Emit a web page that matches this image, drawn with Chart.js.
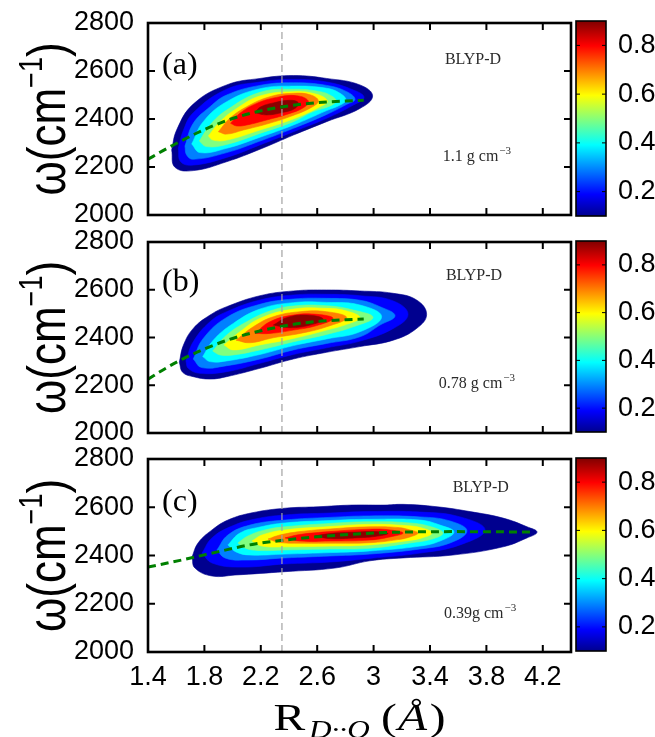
<!DOCTYPE html>
<html>
<head>
<meta charset="utf-8">
<script src="https://cdn.jsdelivr.net/npm/chart.js@4.4.1/dist/chart.umd.min.js"></script>
<style>
  html, body { margin: 0; padding: 0; background: #fff; }
  body { width: 655px; height: 737px; position: relative; overflow: hidden; }
  canvas { position: absolute; }
</style>
</head>
<body>
<canvas id="pa" width="575" height="240" style="left:0;top:0"></canvas>
<canvas id="ca" width="95" height="240" style="left:560px;top:0"></canvas>
<canvas id="pb" width="575" height="240" style="left:0;top:218px"></canvas>
<canvas id="cb" width="95" height="240" style="left:560px;top:218px"></canvas>
<canvas id="pc" width="575" height="302" style="left:0;top:435px"></canvas>
<canvas id="cc" width="95" height="302" style="left:560px;top:435px"></canvas>
<script>
// ---- axes ----
const xTicks = [1.4, 1.8, 2.2, 2.6, 3.0, 3.4, 3.8, 4.2];
const xTickLabels = ['1.4', '1.8', '2.2', '2.6', '3', '3.4', '3.8', '4.2'];
const xRange = [1.4, 4.4];
const yTicks = [2000, 2200, 2400, 2600, 2800];
const yRange = [2000, 2800];
const cbTicks = [0.2, 0.4, 0.6, 0.8];
const cbTickLabels = ['0.2', '0.4', '0.6', '0.8'];
const cbRange = [0.1, 0.9];

// density levels 0.1 ... 0.9 (one filled band per level, outermost first)
const levelValues = [0.1, 0.2, 0.3, 0.4, 0.5, 0.6, 0.7, 0.8, 0.9];
const levelColors = ['#00008f', '#0000ff', '#0080ff', '#00ffff', '#80ff80', '#ffff00', '#ff8000', '#ff0000', '#8c0000'];
const jetStops = [0, 0.111, 0.365, 0.619, 0.873, 1];
const jetColors = ['#00008f', '#0000ff', '#00ffff', '#ffff00', '#ff0000', '#800000'];

// vertical reference distance (Å)
const guideR = 2.35;

// ---- (a) 1.1 g/cm3: contour outlines [R, omega] per level ----
const contoursA = [
  [[1.568,2271],[1.603,2354],[1.721,2462],[1.958,2542],[2.194,2569],[2.431,2581],[2.667,2569],[2.903,2542],[2.993,2496],[2.903,2444],[2.667,2389],[2.431,2333],[2.194,2274],[1.958,2222],[1.721,2185],[1.591,2199]],
  [[1.615,2278],[1.650,2351],[1.721,2426],[1.958,2524],[2.194,2554],[2.431,2565],[2.667,2554],[2.856,2521],[2.932,2490],[2.856,2458],[2.667,2403],[2.431,2347],[2.194,2292],[1.958,2240],[1.721,2208],[1.632,2222]],
  [[1.662,2287],[1.721,2382],[1.840,2451],[1.958,2500],[2.194,2540],[2.431,2551],[2.667,2540],[2.809,2514],[2.868,2482],[2.809,2461],[2.667,2419],[2.431,2361],[2.194,2308],[1.958,2260],[1.721,2232],[1.674,2250]],
  [[1.710,2296],[1.792,2389],[1.958,2472],[2.194,2526],[2.431,2537],[2.667,2528],[2.762,2507],[2.804,2479],[2.762,2458],[2.667,2435],[2.431,2375],[2.194,2324],[1.958,2278],[1.769,2260]],
  [[1.764,2308],[1.840,2375],[1.958,2437],[2.194,2511],[2.431,2524],[2.620,2514],[2.702,2496],[2.733,2475],[2.691,2454],[2.572,2431],[2.431,2389],[2.194,2340],[1.958,2294],[1.816,2285]],
  [[1.828,2329],[1.911,2389],[2.029,2444],[2.194,2496],[2.431,2514],[2.596,2503],[2.672,2475],[2.620,2451],[2.431,2400],[2.194,2354],[1.958,2312],[1.863,2312]],
  [[1.899,2347],[1.981,2403],[2.100,2451],[2.265,2493],[2.431,2507],[2.549,2501],[2.608,2476],[2.561,2449],[2.407,2410],[2.242,2379],[2.076,2354],[1.958,2337]],
  [[1.986,2382],[2.052,2424],[2.171,2465],[2.312,2490],[2.454,2497],[2.537,2475],[2.502,2447],[2.383,2419],[2.242,2396],[2.100,2375],[2.029,2371]],
  [[2.159,2426],[2.194,2449],[2.289,2467],[2.407,2478],[2.466,2468],[2.442,2444],[2.360,2428],[2.242,2417]]
];
const fitA = [[1.4,2232],[1.5,2266],[1.6,2298],[1.8,2356],[2.0,2402],[2.2,2434],[2.4,2455],[2.6,2468],[2.8,2475],[2.93,2478]];

// ---- (b) 0.78 g/cm3 ----
const contoursB = [
  [[1.622,2296],[1.650,2366],[1.721,2438],[1.840,2494],[1.958,2529],[2.194,2575],[2.431,2595],[2.667,2599],[2.903,2595],[3.140,2585],[3.305,2557],[3.376,2497],[3.305,2438],[3.140,2389],[2.903,2362],[2.667,2338],[2.431,2310],[2.194,2271],[1.958,2236],[1.840,2226],[1.721,2236],[1.646,2254]],
  [[1.669,2302],[1.721,2382],[1.840,2466],[1.958,2508],[2.194,2557],[2.431,2578],[2.667,2581],[2.903,2575],[3.140,2553],[3.244,2497],[3.140,2438],[2.903,2385],[2.667,2357],[2.431,2329],[2.194,2292],[1.958,2257],[1.769,2250],[1.686,2271]],
  [[1.721,2310],[1.792,2396],[1.958,2484],[2.194,2539],[2.431,2561],[2.667,2564],[2.903,2556],[3.045,2529],[3.152,2491],[3.045,2452],[2.903,2403],[2.667,2375],[2.431,2348],[2.194,2310],[1.958,2282],[1.781,2274]],
  [[1.788,2320],[1.863,2389],[2.005,2459],[2.194,2519],[2.431,2546],[2.667,2547],[2.903,2536],[3.057,2487],[2.903,2424],[2.667,2394],[2.431,2366],[2.194,2329],[1.958,2302],[1.840,2299]],
  [[1.859,2343],[1.958,2410],[2.100,2466],[2.265,2511],[2.431,2532],[2.667,2533],[2.856,2515],[2.996,2484],[2.856,2445],[2.667,2413],[2.431,2382],[2.194,2348],[2.005,2327],[1.911,2327]],
  [[1.939,2369],[2.052,2424],[2.194,2480],[2.431,2519],[2.667,2522],[2.809,2511],[2.903,2483],[2.809,2455],[2.667,2431],[2.431,2396],[2.194,2369],[2.005,2348]],
  [[2.024,2389],[2.147,2445],[2.289,2487],[2.478,2508],[2.667,2508],[2.809,2483],[2.667,2445],[2.478,2417],[2.289,2399],[2.123,2378]],
  [[2.159,2417],[2.265,2466],[2.431,2494],[2.596,2497],[2.712,2480],[2.596,2450],[2.431,2431],[2.265,2417]],
  [[2.289,2452],[2.383,2483],[2.525,2494],[2.643,2477],[2.549,2452],[2.407,2441]]
];
const fitB = [[1.4,2225],[1.5,2262],[1.6,2296],[1.8,2352],[2.0,2396],[2.2,2428],[2.4,2452],[2.6,2467],[2.8,2474],[2.93,2477]];

// ---- (c) 0.39 g/cm3 ----
const contoursC = [
  [[1.712,2394],[1.755,2452],[1.854,2506],[1.967,2547],[2.138,2577],[2.372,2596],[2.606,2602],[2.847,2609],[3.081,2609],[3.209,2612],[3.450,2602],[3.684,2582],[3.918,2555],[4.088,2519],[4.159,2497],[4.088,2473],[3.918,2436],[3.563,2402],[3.209,2390],[2.974,2378],[2.726,2348],[2.372,2333],[2.017,2319],[1.854,2315],[1.733,2348]],
  [[1.783,2410],[1.854,2473],[1.996,2522],[2.159,2551],[2.372,2568],[2.691,2576],[2.974,2582],[3.329,2580],[3.613,2560],[3.790,2506],[3.613,2444],[3.329,2410],[2.974,2388],[2.691,2373],[2.372,2365],[2.052,2352],[1.854,2369]],
  [[1.889,2423],[1.967,2485],[2.123,2526],[2.372,2547],[2.691,2558],[2.974,2564],[3.329,2560],[3.542,2543],[3.662,2502],[3.542,2452],[3.329,2427],[2.974,2406],[2.691,2398],[2.372,2390],[2.088,2381],[1.946,2390]],
  [[1.967,2444],[2.052,2493],[2.194,2518],[2.372,2535],[2.691,2545],[2.974,2550],[3.329,2547],[3.471,2526],[3.570,2497],[3.471,2460],[3.329,2439],[2.974,2419],[2.691,2412],[2.372,2406],[2.123,2402],[2.024,2415]],
  [[2.038,2452],[2.109,2481],[2.230,2506],[2.372,2519],[2.691,2533],[2.974,2540],[3.258,2535],[3.414,2518],[3.492,2493],[3.414,2468],[3.258,2452],[2.974,2430],[2.691,2427],[2.372,2423],[2.180,2421],[2.088,2431]],
  [[2.138,2460],[2.209,2485],[2.372,2506],[2.691,2520],[2.974,2529],[3.223,2524],[3.343,2514],[3.414,2493],[3.343,2473],[3.223,2460],[2.974,2444],[2.691,2439],[2.372,2436],[2.209,2439]],
  [[2.251,2468],[2.336,2485],[2.478,2499],[2.691,2510],[2.974,2519],[3.173,2516],[3.258,2506],[3.315,2493],[3.258,2477],[3.173,2466],[2.974,2453],[2.691,2451],[2.478,2451],[2.336,2454]],
  [[2.372,2473],[2.478,2487],[2.691,2499],[2.974,2509],[3.116,2506],[3.209,2493],[3.116,2477],[2.974,2464],[2.691,2460],[2.478,2460]],
  [[2.584,2481],[2.691,2491],[2.868,2497],[3.010,2499],[3.102,2491],[3.010,2479],[2.868,2473],[2.691,2470]]
];
const fitC = [[1.4,2352],[1.66,2384],[1.9,2416],[2.14,2446],[2.37,2464],[2.61,2478],[2.85,2488],[3.08,2495],[3.57,2499],[4.14,2497]];

// ---- panel captions ----
const panelTags = ['(a)', '(b)', '(c)'];
const modelNames = ['BLYP-D', 'BLYP-D', 'BLYP-D'];
const densityTexts = ['1.1 g cm', '0.78 g cm', '0.39g cm'];
const densityExp = '\u22123';

// ---------------------------------------------------------------
Chart.defaults.font.family = '"Liberation Sans", Arial, sans-serif';
Chart.defaults.color = '#000';
Chart.defaults.animation = false;

const SANS = '"Liberation Sans", Arial, sans-serif';
const SERIF = '"Liberation Serif", "Times New Roman", serif';
const TICK_FONT = 27;

// frame + inward tick marks on all four sides
function frameTicks(opts) {
  return {
    id: 'frameTicks',
    afterDraw(chart) {
      const { ctx, chartArea: a } = chart;
      ctx.save();
      ctx.strokeStyle = '#000';
      ctx.lineWidth = opts.tickWidth;
      ctx.beginPath();
      for (const id of opts.axes) {
        const s = chart.scales[id];
        for (const t of s.ticks) {
          const p = s.getPixelForValue(t.value);
          if (s.isHorizontal()) {
            if (p <= a.left + 1 || p >= a.right - 1) continue;
            ctx.moveTo(p, a.bottom); ctx.lineTo(p, a.bottom - opts.len);
            ctx.moveTo(p, a.top); ctx.lineTo(p, a.top + opts.len);
          } else {
            if (p <= a.top + 1 || p >= a.bottom - 1) continue;
            ctx.moveTo(a.left, p); ctx.lineTo(a.left + opts.len, p);
            ctx.moveTo(a.right, p); ctx.lineTo(a.right - opts.len, p);
          }
        }
      }
      ctx.stroke();
      ctx.lineWidth = opts.frameWidth;
      ctx.strokeRect(a.left, a.top, a.right - a.left, a.bottom - a.top);
      ctx.restore();
    }
  };
}

// rotated y title: omega(cm^-1)
function yTitle(opts) {
  return {
    id: 'yTitle',
    afterDraw(chart) {
      const { ctx, chartArea: a } = chart;
      const cy = (a.top + a.bottom) / 2;
      const big = `${opts.size}px ${SANS}`;
      const small = `${opts.supSize}px ${SANS}`;
      ctx.save();
      ctx.fillStyle = '#000';
      ctx.textBaseline = 'alphabetic';
      ctx.textAlign = 'left';
      ctx.font = big;
      const w1 = ctx.measureText('\u03c9(cm').width;
      const w3 = ctx.measureText(')').width;
      ctx.font = small;
      const w2 = ctx.measureText('\u22121').width;
      ctx.translate(opts.baseline, cy);
      ctx.rotate(-Math.PI / 2);
      ctx.scale(1, opts.thick);
      let x = -(w1 + w2 + w3) / 2;
      ctx.font = big; ctx.fillText('\u03c9(cm', x, 0); x += w1;
      ctx.font = small; ctx.fillText('\u22121', x, -opts.rise); x += w2;
      ctx.font = big; ctx.fillText(')', x, 0);
      ctx.restore();
    }
  };
}

// panel letter, functional name and density label
function captions(idx, pos) {
  return {
    id: 'captions',
    afterDatasetsDraw(chart) {
      const { ctx } = chart;
      const xs = chart.scales.x, ys = chart.scales.y;
      ctx.save();
      ctx.textBaseline = 'middle';
      ctx.fillStyle = '#000';
      ctx.font = `32px ${SERIF}`;
      ctx.textAlign = 'left';
      ctx.fillText(panelTags[idx], xs.getPixelForValue(pos.tag[0]), ys.getPixelForValue(pos.tag[1]));

      ctx.fillStyle = '#2a2a2a';
      ctx.font = `16px ${SERIF}`;
      ctx.textAlign = 'center';
      ctx.fillText(modelNames[idx], xs.getPixelForValue(pos.model[0]), ys.getPixelForValue(pos.model[1]));

      const main = densityTexts[idx];
      ctx.font = `16px ${SERIF}`;
      const wm = ctx.measureText(main).width;
      ctx.font = `11px ${SERIF}`;
      const we = ctx.measureText(densityExp).width;
      const cx = xs.getPixelForValue(pos.dens[0]);
      const cy = ys.getPixelForValue(pos.dens[1]);
      const left = cx - (wm + we + 1) / 2;
      ctx.textAlign = 'left';
      ctx.font = `16px ${SERIF}`;
      ctx.fillText(main, left, cy);
      ctx.font = `11px ${SERIF}`;
      ctx.fillText(densityExp, left + wm + 1, cy - 6);
      ctx.restore();
    }
  };
}

// x title: R_{D..O}(Å)
function xTitle() {
  return {
    id: 'xTitle',
    afterDraw(chart) {
      const { ctx, chartArea: a } = chart;
      const parts = [
        { t: 'R', f: `38px ${SERIF}`, dy: 0, gap: 0 },
        { t: 'D\u00b7\u00b7O', f: `italic 25px ${SERIF}`, dy: 8, gap: 3 },
        { t: '(', f: `38px ${SERIF}`, dy: 0, gap: 9 },
        { t: '\u00c5', f: `italic 38px ${SERIF}`, dy: 0, gap: 1 },
        { t: ')', f: `38px ${SERIF}`, dy: 0, gap: 2 }
      ];
      ctx.save();
      let total = 0;
      for (const p of parts) { ctx.font = p.f; p.w = ctx.measureText(p.t).width; total += p.w + p.gap; }
      const span = 172;
      const sx = span / total;
      const cx = (a.left + a.right) / 2;
      const baseY = a.bottom + 78;
      ctx.translate(cx - span / 2, baseY);
      ctx.scale(sx, 1);
      ctx.fillStyle = '#000';
      ctx.textBaseline = 'alphabetic';
      ctx.textAlign = 'left';
      let x = 0;
      for (const p of parts) {
        x += p.gap;
        ctx.font = p.f;
        ctx.fillText(p.t, x, p.dy);
        x += p.w;
      }
      ctx.restore();
    }
  };
}

function toXY(arr) { return arr.map(([x, y]) => ({ x, y })); }

function buildPanel(canvasId, idx, contours, fit, layout, pos) {
  const datasets = [];
  contours.forEach((poly, k) => {
    const pts = toXY(poly);
    pts.push({ x: poly[0][0], y: poly[0][1] });
    datasets.push({
      label: 'p > ' + levelValues[k],
      data: pts,
      showLine: true,
      fill: 'shape',
      backgroundColor: levelColors[k],
      borderColor: levelColors[k],
      borderWidth: 0.6,
      pointRadius: 0,
      tension: 0.42,
      order: 20 - k
    });
  });
  datasets.push({
    label: 'fit',
    data: toXY(fit),
    showLine: true,
    fill: false,
    borderColor: '#008000',
    borderWidth: 3,
    borderDash: [8, 5],
    pointRadius: 0,
    cubicInterpolationMode: 'monotone',
    order: 1
  });
  datasets.push({
    label: 'guide',
    data: [{ x: guideR, y: yRange[0] }, { x: guideR, y: yRange[1] }],
    showLine: true,
    fill: false,
    borderColor: '#a3a3a3',
    borderWidth: 1.2,
    borderDash: [7, 4],
    pointRadius: 0,
    order: 0
  });

  const plugins = [
    frameTicks({ axes: ['x', 'y'], len: 7, tickWidth: 2, frameWidth: 2.6 }),
    yTitle({ baseline: 65, size: 44, supSize: 27, rise: 19, thick: 1.2 }),
    captions(idx, pos)
  ];
  if (layout.xLabels) plugins.push(xTitle());

  return new Chart(document.getElementById(canvasId), {
    type: 'scatter',
    data: { datasets },
    options: {
      responsive: false,
      animation: false,
      events: [],
      layout: { padding: { left: 0, right: 4, top: layout.padTop, bottom: 0 } },
      plugins: { legend: { display: false }, tooltip: { enabled: false } },
      scales: {
        x: {
          type: 'linear',
          min: xRange[0], max: xRange[1],
          afterBuildTicks: s => { s.ticks = xTicks.map(v => ({ value: v })); },
          afterFit: s => { s.height = layout.xAxisH; },
          grid: { display: false },
          border: { display: false },
          ticks: {
            display: layout.xLabels,
            padding: 1,
            font: { size: TICK_FONT, family: SANS },
            color: '#000',
            maxRotation: 0,
            autoSkip: false,
            callback: (v, i) => xTickLabels[i]
          }
        },
        y: {
          type: 'linear',
          min: yRange[0], max: yRange[1],
          afterBuildTicks: s => { s.ticks = yTicks.map(v => ({ value: v })); },
          afterFit: s => { s.width = 148; },
          grid: { display: false },
          border: { display: false },
          ticks: {
            padding: 6,
            font: { size: TICK_FONT, family: SANS },
            color: '#000',
            autoSkip: false,
            callback: v => String(v)
          }
        }
      }
    },
    plugins
  });
}

function jetGradient(chart) {
  const area = chart.chartArea;
  if (!area) return jetColors[0];
  const ys = chart.scales.y;
  const g = chart.ctx.createLinearGradient(0, ys.getPixelForValue(cbRange[0]), 0, ys.getPixelForValue(cbRange[1]));
  jetStops.forEach((s, i) => g.addColorStop(s, jetColors[i]));
  return g;
}

function buildColorbar(canvasId, padTop, padBottom) {
  return new Chart(document.getElementById(canvasId), {
    type: 'bar',
    data: {
      labels: [''],
      datasets: [{
        data: [[cbRange[0], cbRange[1]]],
        backgroundColor: c => jetGradient(c.chart),
        borderWidth: 0,
        categoryPercentage: 1,
        barPercentage: 1
      }]
    },
    options: {
      responsive: false,
      animation: false,
      events: [],
      layout: { padding: { left: 16, right: 0, top: padTop, bottom: padBottom } },
      plugins: { legend: { display: false }, tooltip: { enabled: false } },
      scales: {
        x: { display: false },
        y: {
          position: 'right',
          min: cbRange[0], max: cbRange[1],
          afterBuildTicks: s => { s.ticks = cbTicks.map(v => ({ value: v })); },
          afterFit: s => { s.width = 49; },
          grid: { display: false },
          border: { display: false },
          ticks: {
            padding: 4,
            font: { size: TICK_FONT, family: SANS },
            color: '#000',
            autoSkip: false,
            callback: (v, i) => cbTickLabels[i]
          }
        }
      }
    },
    plugins: [frameTicks({ axes: ['y'], len: 4, tickWidth: 1, frameWidth: 1.6 })]
  });
}

buildPanel('pa', 0, contoursA, fitA, { padTop: 23, xAxisH: 25, xLabels: false },
  { tag: [1.5, 2621], model: [3.705, 2646], dens: [3.733, 2242] });
buildPanel('pb', 1, contoursB, fitB, { padTop: 24, xAxisH: 25, xLabels: false },
  { tag: [1.5, 2632], model: [3.712, 2657], dens: [3.733, 2205] });
buildPanel('pc', 2, contoursC, fitC, { padTop: 24, xAxisH: 85, xLabels: true },
  { tag: [1.5, 2618], model: [3.76, 2680], dens: [3.755, 2157] });

buildColorbar('ca', 21, 24);
buildColorbar('cb', 23, 26);
buildColorbar('cc', 23, 86);
</script>
</body>
</html>
